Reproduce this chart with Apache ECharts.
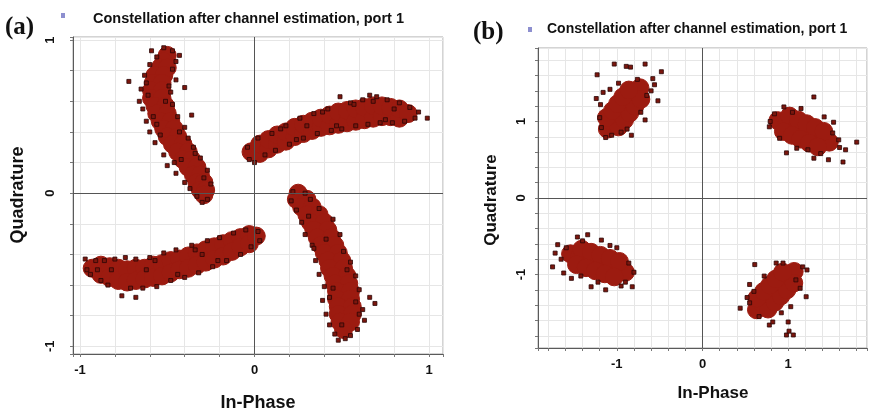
<!DOCTYPE html>
<html>
<head>
<meta charset="utf-8">
<script src="https://cdn.jsdelivr.net/npm/echarts@6/dist/echarts.min.js"></script>
<style>
  html, body { margin: 0; padding: 0; background: #ffffff; }
  #chart { width: 870px; height: 412px; }
</style>
</head>
<body>
<div id="chart"></div>
<script>
// ---- Panel (a): constellation with phase rotation (four arcs) ----
// dense centre of each arc
const arcUpperLeftCore = [
  [-0.50,0.90],[-0.52,0.86],[-0.54,0.82],[-0.50,0.82],[-0.57,0.77],[-0.52,0.77],
  [-0.58,0.72],[-0.53,0.72],[-0.59,0.67],[-0.53,0.67],[-0.59,0.62],[-0.53,0.62],
  [-0.57,0.57],[-0.51,0.57],[-0.56,0.52],[-0.50,0.52],[-0.54,0.47],[-0.48,0.47],
  [-0.52,0.42],[-0.46,0.42],[-0.50,0.37],[-0.44,0.37],[-0.47,0.32],[-0.41,0.32],
  [-0.44,0.27],[-0.38,0.27],[-0.41,0.22],[-0.36,0.22],[-0.38,0.17],[-0.33,0.17],
  [-0.35,0.12],[-0.31,0.12],[-0.33,0.07],[-0.29,0.07],[-0.31,0.02],[-0.28,0.02],[-0.29,-0.01]
];
const arcUpperRightCore = [
  [-0.02,0.27],[0.03,0.26],[0.03,0.32],[0.08,0.29],[0.08,0.35],[0.13,0.32],[0.13,0.38],
  [0.18,0.34],[0.18,0.40],[0.23,0.37],[0.23,0.43],[0.28,0.39],[0.28,0.45],[0.33,0.41],
  [0.33,0.47],[0.38,0.43],[0.38,0.49],[0.43,0.44],[0.43,0.51],[0.48,0.45],[0.48,0.53],
  [0.53,0.46],[0.53,0.54],[0.58,0.47],[0.58,0.55],[0.63,0.48],[0.63,0.56],[0.68,0.49],
  [0.68,0.57],[0.73,0.50],[0.73,0.57],[0.78,0.50],[0.78,0.56],[0.83,0.49],[0.83,0.55],[0.88,0.52]
];
const arcLowerLeftCore = [
  [-0.93,-0.49],[-0.88,-0.47],[-0.88,-0.53],[-0.83,-0.48],[-0.83,-0.55],[-0.78,-0.49],
  [-0.78,-0.57],[-0.73,-0.50],[-0.73,-0.58],[-0.68,-0.49],[-0.68,-0.57],[-0.63,-0.49],
  [-0.63,-0.56],[-0.58,-0.47],[-0.58,-0.55],[-0.53,-0.46],[-0.53,-0.54],[-0.48,-0.44],
  [-0.48,-0.52],[-0.43,-0.43],[-0.43,-0.50],[-0.38,-0.41],[-0.38,-0.49],[-0.33,-0.39],
  [-0.33,-0.47],[-0.28,-0.37],[-0.28,-0.45],[-0.23,-0.35],[-0.23,-0.43],[-0.18,-0.33],
  [-0.18,-0.41],[-0.13,-0.31],[-0.13,-0.38],[-0.08,-0.29],[-0.08,-0.35],[-0.03,-0.27],
  [-0.03,-0.33],[0.01,-0.28]
];
const arcLowerRightCore = [
  [0.25,0.00],[0.24,-0.04],[0.30,-0.04],[0.27,-0.09],[0.33,-0.09],[0.30,-0.14],[0.37,-0.14],
  [0.32,-0.19],[0.40,-0.19],[0.34,-0.24],[0.42,-0.24],[0.36,-0.29],[0.44,-0.29],[0.38,-0.34],
  [0.46,-0.34],[0.40,-0.39],[0.48,-0.39],[0.42,-0.44],[0.50,-0.44],[0.43,-0.49],[0.51,-0.49],
  [0.45,-0.54],[0.53,-0.54],[0.46,-0.59],[0.54,-0.59],[0.47,-0.64],[0.55,-0.64],[0.47,-0.69],
  [0.55,-0.69],[0.48,-0.74],[0.56,-0.74],[0.48,-0.79],[0.56,-0.79],[0.49,-0.84],[0.55,-0.84],[0.51,-0.89]
];
// individual samples around the edges of each arc
const arcUpperLeftPts = [
  [-0.59,0.93],[-0.52,0.95],[-0.47,0.93],[-0.43,0.90],[-0.56,0.89],[-0.45,0.86],
  [-0.60,0.84],[-0.47,0.81],[-0.72,0.73],[-0.63,0.77],[-0.45,0.74],[-0.40,0.69],
  [-0.65,0.68],[-0.48,0.66],[-0.66,0.60],[-0.47,0.58],[-0.64,0.55],[-0.36,0.51],
  [-0.44,0.50],[-0.62,0.47],[-0.40,0.43],[-0.60,0.40],[-0.38,0.36],[-0.57,0.33],
  [-0.35,0.30],[-0.52,0.25],[-0.50,0.18],[-0.31,0.23],[-0.45,0.13],[-0.27,0.15],
  [-0.40,0.07],[-0.25,0.06],[-0.33,-0.02],[-0.27,-0.04],[-0.30,-0.06],[-0.51,0.60],
  [-0.56,0.45],[-0.42,0.22],[-0.62,0.72],[-0.49,0.70],[-0.61,0.64],[-0.58,0.50],
  [-0.43,0.40],[-0.54,0.38],[-0.34,0.26],[-0.46,0.20],[-0.29,0.10],[-0.37,0.03]
];
const arcUpperRightPts = [
  [-0.03,0.22],[-0.04,0.30],[0.00,0.20],[0.02,0.36],[0.06,0.25],[0.10,0.39],[0.12,0.28],
  [0.18,0.44],[0.20,0.32],[0.26,0.49],[0.28,0.36],[0.34,0.52],[0.36,0.39],[0.42,0.55],
  [0.44,0.41],[0.49,0.63],[0.50,0.42],[0.55,0.59],[0.58,0.44],[0.62,0.61],[0.65,0.45],
  [0.70,0.63],[0.72,0.46],[0.76,0.61],[0.79,0.46],[0.83,0.59],[0.86,0.47],[0.89,0.56],
  [0.92,0.49],[0.94,0.53],[0.99,0.49],[0.66,0.64],[0.80,0.55],[0.30,0.44],
  [0.15,0.42],[0.24,0.35],[0.39,0.53],[0.47,0.44],[0.57,0.58],[0.68,0.60],[0.75,0.48]
];
const arcLowerLeftPts = [
  [-0.97,-0.43],[-0.96,-0.50],[-0.94,-0.53],[-0.91,-0.44],[-0.88,-0.57],[-0.86,-0.44],
  [-0.84,-0.60],[-0.80,-0.43],[-0.76,-0.67],[-0.74,-0.42],[-0.68,-0.68],[-0.68,-0.43],
  [-0.64,-0.62],[-0.60,-0.42],[-0.56,-0.61],[-0.52,-0.39],[-0.48,-0.57],[-0.45,-0.37],
  [-0.40,-0.55],[-0.36,-0.34],[-0.32,-0.52],[-0.27,-0.31],[-0.24,-0.48],[-0.20,-0.29],
  [-0.16,-0.44],[-0.12,-0.26],[-0.08,-0.40],[-0.05,-0.24],[-0.02,-0.35],[0.02,-0.25],
  [0.03,-0.31],[-0.82,-0.50],[-0.62,-0.50],[-0.30,-0.40],
  [-0.90,-0.50],[-0.71,-0.62],[-0.57,-0.44],[-0.44,-0.53],[-0.34,-0.37],[-0.21,-0.44]
];
const arcLowerRightPts = [
  [0.22,0.01],[0.29,0.00],[0.21,-0.05],[0.32,-0.04],[0.24,-0.11],[0.37,-0.10],
  [0.27,-0.19],[0.45,-0.17],[0.29,-0.27],[0.49,-0.27],[0.33,-0.34],[0.51,-0.38],
  [0.35,-0.44],[0.55,-0.45],[0.37,-0.53],[0.58,-0.54],[0.40,-0.61],[0.60,-0.63],
  [0.39,-0.70],[0.66,-0.68],[0.69,-0.72],[0.62,-0.76],[0.41,-0.79],[0.63,-0.83],
  [0.43,-0.86],[0.59,-0.89],[0.46,-0.92],[0.48,-0.96],[0.52,-0.95],[0.55,-0.93],
  [0.34,-0.36],[0.45,-0.62],[0.60,-0.79],
  [0.31,-0.15],[0.41,-0.30],[0.53,-0.50],[0.43,-0.68],[0.58,-0.71],[0.50,-0.86]
];

// ---- Panel (b): constellation after correction (four blobs) ----
const blobTLCore = [
  [-1.11,0.90],[-1.05,0.99],[-0.98,1.08],[-0.92,1.17],[-0.86,1.26],[-0.79,1.35],[-0.73,1.44],
  [-0.98,0.93],[-1.12,1.05],[-0.91,1.02],[-1.05,1.14],[-0.85,1.11],[-0.99,1.23],
  [-0.79,1.20],[-0.93,1.32],[-0.72,1.29],[-0.86,1.41]
];
const blobTRCore = [
  [0.88,1.01],[0.98,0.97],[1.08,0.92],[1.18,0.87],[1.28,0.82],[1.38,0.77],[1.48,0.73],
  [1.015,1.07],[0.945,0.87],[1.115,1.02],[1.045,0.82],[1.215,0.97],[1.145,0.77],
  [1.315,0.92],[1.245,0.72],[1.415,0.87],[1.345,0.67]
];
const blobBLCore = [
  [-1.54,-0.73],[-1.44,-0.77],[-1.33,-0.81],[-1.22,-0.85],[-1.11,-0.89],[-1.00,-0.93],[-0.90,-0.97],
  [-1.41,-0.67],[-1.47,-0.87],[-1.30,-0.71],[-1.36,-0.91],[-1.19,-0.75],[-1.25,-0.95],
  [-1.08,-0.79],[-1.14,-0.99],[-0.97,-0.83],[-1.03,-1.03]
];
const blobBRCore = [
  [0.63,-1.46],[0.70,-1.38],[0.78,-1.29],[0.85,-1.21],[0.92,-1.13],[1.00,-1.04],[1.07,-0.96],
  [0.765,-1.45],[0.635,-1.31],[0.845,-1.36],[0.715,-1.22],[0.915,-1.28],[0.785,-1.14],
  [0.985,-1.20],[0.855,-1.06],[1.065,-1.11],[0.935,-0.97]
];
const blobTLPts = [
  [-1.23,1.61],[-1.03,1.75],[-0.89,1.72],[-0.84,1.71],[-0.67,1.75],[-0.48,1.65],[-0.58,1.56],
  [-1.24,1.30],[-1.19,1.22],[-1.16,1.38],[-1.13,0.79],[-1.06,0.82],[-0.83,0.82],[-0.52,1.27],
  [-0.60,1.40],[-0.67,1.02],[-0.72,1.12],[-0.76,1.55],[-0.98,1.50],[-1.08,1.42],[-1.18,0.92],
  [-0.65,1.34],[-0.88,0.90],[-0.56,1.48],[-0.95,0.86],[-1.20,1.05]
];
const blobTRPts = [
  [1.30,1.32],[1.80,0.73],[1.67,0.63],[1.64,0.47],[1.47,0.50],[0.78,0.93],[0.79,1.00],
  [0.95,1.19],[1.15,1.17],[1.42,1.06],[1.53,0.99],[0.98,0.59],[1.30,0.52],[1.23,0.63],
  [1.59,0.76],[0.84,1.10],[1.05,1.12],[1.60,0.66],[1.10,0.65],[0.90,0.78],[1.38,0.58],[1.52,0.85]
];
const blobBLPts = [
  [-1.75,-0.90],[-1.69,-0.61],[-1.72,-0.72],[-1.59,-0.65],[-1.46,-0.51],[-1.34,-0.48],
  [-1.18,-0.55],[-1.00,-0.65],[-0.80,-0.97],[-0.82,-1.16],[-1.13,-1.20],[-1.30,-1.16],
  [-1.53,-1.05],[-1.62,-0.98],[-0.90,-1.10],[-1.08,-0.62],[-1.40,-0.56],[-0.86,-0.85],
  [-1.65,-0.80],[-1.22,-1.10],[-0.95,-1.15],[-1.42,-1.02]
];
const blobBRPts = [
  [0.44,-1.44],[0.55,-1.37],[0.61,-0.87],[0.55,-1.13],[0.78,-1.66],[0.82,-1.62],
  [1.00,-1.62],[0.98,-1.79],[1.06,-1.79],[1.01,-1.74],[1.21,-1.29],[1.17,-0.90],
  [1.22,-0.94],[1.03,-1.42],[0.86,-0.85],[0.94,-0.85],[1.09,-1.07],[0.66,-1.55],
  [0.52,-1.30],[0.60,-1.22],[0.72,-1.02],[1.14,-1.18],[0.92,-1.50]
];

// axis labels and texts
const tickLabelsShown = [-1, 0, 1];
const panelTitle = 'Constellation after channel estimation, port 1';
const xTitle = 'In-Phase';
const yTitle = 'Quadrature';

const FONT = '"Liberation Sans", Arial, sans-serif';
const SERIF = '"Liberation Serif", "Times New Roman", serif';
const RED = '#9c1b10';

function tickFormatter(v) {
  const r = Math.round(v);
  if (Math.abs(v - r) < 1e-6 && tickLabelsShown.indexOf(r) >= 0) return String(r);
  return '';
}

function valueAxis(gridIndex, min, max, isY, labelMargin) {
  return {
    type: 'value', gridIndex, min, max,
    minInterval: 0.2, maxInterval: 0.2,
    axisLine: { show: true, onZero: false, lineStyle: { color: '#5a5a5a', width: 1 } },
    axisTick: { show: true, inside: false, length: 3, lineStyle: { color: '#777' } },
    splitLine: { show: true, lineStyle: { color: '#e6e6e6', width: 1 } },
    axisLabel: {
      formatter: tickFormatter, rotate: isY ? 90 : 0, margin: labelMargin,
      fontFamily: FONT, fontWeight: 'bold', fontSize: 13, color: '#111',
      showMinLabel: true, showMaxLabel: true
    }
  };
}

function zeroLines(idx) {
  return {
    type: 'line', xAxisIndex: idx, yAxisIndex: idx, data: [], z: 1, silent: true,
    markLine: {
      silent: true, symbol: ['none', 'none'], animation: false,
      label: { show: false },
      lineStyle: { color: '#555555', width: 1, type: 'solid' },
      emphasis: { disabled: true },
      data: [{ xAxis: 0 }, { yAxis: 0 }]
    }
  };
}

function coreSeries(idx, data, size) {
  return {
    type: 'scatter', xAxisIndex: idx, yAxisIndex: idx, z: 2, silent: true,
    symbol: 'circle', symbolSize: size, data,
    itemStyle: { color: RED, opacity: 1, borderColor: RED, borderWidth: 1, shadowBlur: 0 },
    emphasis: { disabled: true }
  };
}

function ptsSeries(idx, data) {
  return {
    type: 'scatter', xAxisIndex: idx, yAxisIndex: idx, z: 3, silent: true,
    symbol: 'rect', symbolSize: 4, data,
    itemStyle: { color: '#7c160d', borderColor: '#2a0606', borderWidth: 0.8, opacity: 1 },
    emphasis: { disabled: true }
  };
}

const chart = echarts.init(document.getElementById('chart'), null, { renderer: 'canvas' });

chart.setOption({
  backgroundColor: '#ffffff',
  animation: false,
  grid: [
    { left: 73, top: 37, width: 370, height: 317, show: true, borderColor: '#a8a8a8', borderWidth: 1, backgroundColor: '#ffffff' },
    { left: 538, top: 48, width: 334, height: 300, show: true, borderColor: '#a8a8a8', borderWidth: 1, backgroundColor: '#ffffff' }
  ],
  xAxis: [
    valueAxis(0, -1.04, 1.08, false, 10),
    valueAxis(1, -1.92, 1.92, false, 10)
  ],
  yAxis: [
    valueAxis(0, -1.05, 1.02, true, 16),
    valueAxis(1, -1.96, 1.96, true, 10)
  ],
  series: [
    zeroLines(0),
    coreSeries(0, [].concat(arcUpperLeftCore, arcUpperRightCore, arcLowerLeftCore, arcLowerRightCore), 18),
    ptsSeries(0, [].concat(arcUpperLeftPts, arcUpperRightPts, arcLowerLeftPts, arcLowerRightPts)),
    zeroLines(1),
    coreSeries(1, [].concat(blobTLCore, blobTRCore, blobBLCore, blobBRCore), 18),
    ptsSeries(1, [].concat(blobTLPts, blobTRPts, blobBLPts, blobBRPts))
  ],
  graphic: [
    { type: 'text', left: 5, top: 15, style: { text: '(a)', font: 'bold 25px ' + SERIF, fill: '#111' } },
    { type: 'text', left: 473, top: 20, style: { text: '(b)', font: 'bold 25px ' + SERIF, fill: '#111' } },
    { type: 'rect', shape: { x: 61, y: 13, width: 4, height: 5 }, style: { fill: '#8d8fcf' } },
    { type: 'rect', shape: { x: 528, y: 27, width: 4, height: 5 }, style: { fill: '#8d8fcf' } },
    { type: 'text', left: 93, top: 11, style: { text: panelTitle, font: 'bold 14.5px ' + FONT, fill: '#111' } },
    { type: 'text', left: 547, top: 22, style: { text: panelTitle, font: 'bold 14px ' + FONT, fill: '#111' } },
    { type: 'text', x: 258, y: 403, style: { text: xTitle, font: 'bold 18px ' + FONT, fill: '#111', textAlign: 'center', textVerticalAlign: 'middle' } },
    { type: 'text', x: 713, y: 393, style: { text: xTitle, font: 'bold 17px ' + FONT, fill: '#111', textAlign: 'center', textVerticalAlign: 'middle' } },
    { type: 'text', x: 18, y: 195, rotation: Math.PI / 2, style: { text: yTitle, font: 'bold 18px ' + FONT, fill: '#111', textAlign: 'center', textVerticalAlign: 'middle' } },
    { type: 'text', x: 491, y: 200, rotation: Math.PI / 2, style: { text: yTitle, font: 'bold 17px ' + FONT, fill: '#111', textAlign: 'center', textVerticalAlign: 'middle' } }
  ]
});
</script>
</body>
</html>
